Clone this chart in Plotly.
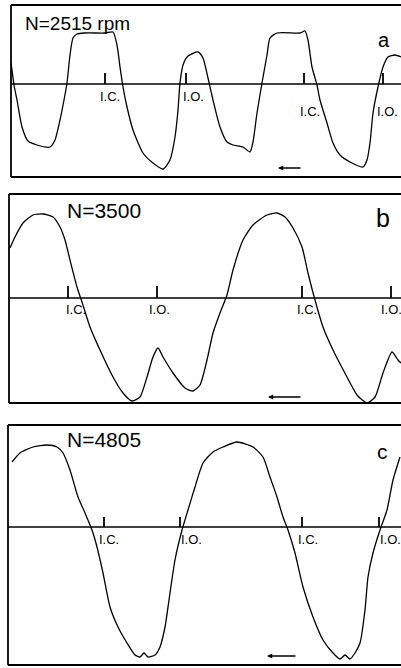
import plotly.graph_objects as go

# ---- Data (x: crank position, arbitrary units; y: signal relative to baseline) ----
a_x = [11, 12, 14, 17, 22, 28, 37, 50, 55, 60, 64, 67, 70, 73, 77, 85, 105, 113, 117, 120, 123, 127,
       133, 143, 153, 163, 170, 175, 178, 180, 183, 188, 198, 203, 208, 213, 220, 227, 233, 243, 250,
       253, 257, 262, 267, 270, 277, 300, 305, 308, 312, 317, 320, 327, 333, 340, 350, 363, 367, 370,
       373, 378, 383, 388, 395, 401]
a_y = [21, 14, -1, -16, -43, -57, -61, -63, -56, -36, -16, 1, 29, 46, 50, 51, 51, 52, 39, 17, -3, -23,
       -46, -69, -79, -85, -76, -53, -26, 1, 19, 28, 32, 26, 6, -16, -43, -58, -61, -63, -68,
       -58, -29, 1, 29, 46, 51, 51, 53, 44, 17, -1, -16, -39, -59, -71, -78, -83, -76, -59,
       -29, -3, 17, 27, 29, 27]
a_ticks = [105, 186, 304, 383]
a_labels = ["I.C.", "I.O.", "I.C.", "I.O."]

b_x = [10, 15, 23, 33, 43, 53, 60, 65, 70, 77, 82, 90, 100, 113, 123, 132, 140, 147, 153, 158, 163,
       173, 185, 193, 200, 207, 213, 220, 227, 233, 243, 253, 267, 277, 285, 293, 302, 308, 315, 323,
       333, 347, 357, 367, 375, 383, 392, 398, 401]
b_y = [50, 61, 75, 83, 84, 81, 71, 58, 38, 11, -4, -29, -52, -79, -95, -103, -99, -79, -59, -50, -59,
       -75, -90, -93, -87, -62, -35, -15, 3, 28, 58, 73, 83, 85, 81, 70, 51, 25, -2, -29,
       -52, -79, -97, -105, -99, -75, -54, -62, -65]
b_ticks = [68, 157, 302, 391]
b_labels = ["I.C.", "I.O.", "I.C.", "I.O."]

c_x = [12, 20, 33, 47, 57, 63, 70, 78, 85, 92, 97, 103, 110, 118, 127, 135, 140, 144, 148, 155, 160,
       165, 170, 175, 182, 188, 195, 203, 213, 223, 237, 253, 263, 270, 277, 283, 288, 295, 303, 313,
       323, 333, 340, 345, 350, 355, 360, 365, 368, 373, 380, 387, 393, 400]
c_y = [65, 74, 80, 82, 80, 74, 57, 30, 14, -3, -20, -46, -80, -100, -116, -128, -130, -126, -130, -128, -120,
       -100, -66, -33, -3, 17, 40, 64, 75, 80, 85, 80, 70, 50, 30, 10, -3, -26, -60, -90,
       -113, -126, -132, -128, -132, -126, -116, -83, -50, -26, -3, 17, 47, 70]
c_ticks = [104, 180, 302, 379]
c_labels = ["I.C.", "I.O.", "I.C.", "I.O."]

panels = [
    dict(x=a_x, y=a_y, ticks=a_ticks, labels=a_labels, title="N=2515 rpm", letter="a",
         top=5, bottom=177, base=84, left=11, lab_dy=[-12, -12, -27, -27], lab_dx=[5, 7, 6, 4],
         tick_h=11, title_size=19, letter_size=20,
         title_px=(23, 24), letter_px=(384, 40), arrow_px=(278, 302, 168)),
    dict(x=b_x, y=b_y, ticks=b_ticks, labels=b_labels, title="N=3500", letter="b",
         top=194, bottom=403, base=298, left=9, lab_dy=[-11, -11, -11, -11], lab_dx=[8, 2, 5, 0],
         tick_h=12, title_size=21, letter_size=25,
         title_px=(65, 210), letter_px=(383, 218), arrow_px=(268, 302, 397)),
    dict(x=c_x, y=c_y, ticks=c_ticks, labels=c_labels, title="N=4805", letter="c",
         top=425, bottom=665, base=527, left=8, lab_dy=[-12, -12, -12, -12], lab_dx=[5, 11, 6, 11],
         tick_h=10, title_size=21, letter_size=21,
         title_px=(65, 439), letter_px=(382, 451), arrow_px=(267, 297, 656)),
]

W, H = 401, 668
fig = go.Figure()
font_main = "Liberation Sans, Arial, sans-serif"
font_lab = "Liberation Sans Narrow, Liberation Sans, Arial, sans-serif"

for i, p in enumerate(panels):
    n = "" if i == 0 else str(i + 1)
    xa, ya = "x" + n, "y" + n
    yr = [p["base"] - p["bottom"], p["base"] - p["top"]]
    dom_y = [1 - p["bottom"] / H, 1 - p["top"] / H]
    fig.update_layout(**{
        "xaxis" + n: dict(domain=[p["left"] / W, 1], range=[p["left"], W], visible=False,
                         anchor=ya, fixedrange=True),
        "yaxis" + n: dict(domain=dom_y, range=yr, visible=False, anchor=xa, fixedrange=True),
    })
    # waveform
    fig.add_trace(go.Scatter(x=p["x"], y=p["y"], mode="lines", xaxis=xa, yaxis=ya,
                             line=dict(color="black", width=1.3, shape="spline", smoothing=0.6),
                             hoverinfo="skip", showlegend=False))
    # baseline
    fig.add_shape(type="line", xref=xa, yref=ya, x0=p["left"], x1=W, y0=0, y1=0,
                  line=dict(color="black", width=1.3))
    # tick marks
    tx, ty = [], []
    for t in p["ticks"]:
        tx += [t, t, None]
        ty += [0, p["tick_h"], None]
    fig.add_trace(go.Scatter(x=tx, y=ty, mode="lines", xaxis=xa, yaxis=ya,
                             line=dict(color="black", width=1.8), hoverinfo="skip",
                             showlegend=False))
    # tick labels
    for t, lab, dy, dx in zip(p["ticks"], p["labels"], p["lab_dy"], p["lab_dx"]):
        fig.add_annotation(x=t + dx, y=dy, xref=xa, yref=ya, text=lab, showarrow=False,
                           font=dict(family=font_lab, size=13, color="black"),
                           xanchor="center", yanchor="middle")
    # frame (top, bottom, left)
    for (x0, x1, y0, y1) in [(0, 1.2, 1, 1), (0, 1.2, 0, 0), (0, 0, 0, 1)]:
        fig.add_shape(type="line", xref=xa + " domain", yref=ya + " domain",
                      x0=x0, x1=x1, y0=y0, y1=y1, line=dict(color="black", width=1.8))
    # title, panel letter, direction arrow
    tx_, ty_ = p["title_px"]
    fig.add_annotation(x=tx_ / W, y=1 - ty_ / H, xref="paper", yref="paper", text=p["title"],
                       showarrow=False, xanchor="left", yanchor="middle",
                       font=dict(family=font_main, size=p["title_size"], color="black"))
    lx, ly = p["letter_px"]
    fig.add_annotation(x=lx / W, y=1 - ly / H, xref="paper", yref="paper", text=p["letter"],
                       showarrow=False, xanchor="center", yanchor="middle",
                       font=dict(family=font_main, size=p["letter_size"], color="black"))
    ax0, ax1, ay = p["arrow_px"]
    fig.add_annotation(x=ax0 / W, y=1 - ay / H, ax=ax1 - ax0, ay=0,
                       xref="paper", yref="paper", axref="pixel", ayref="pixel",
                       text="", showarrow=True, arrowhead=2, arrowsize=0.8, arrowwidth=1.3,
                       arrowcolor="black")

fig.update_layout(width=W, height=H, margin=dict(l=0, r=0, t=0, b=0),
                  paper_bgcolor="white", plot_bgcolor="white", showlegend=False)
fig.write_html("out.html", config={"displayModeBar": False})
